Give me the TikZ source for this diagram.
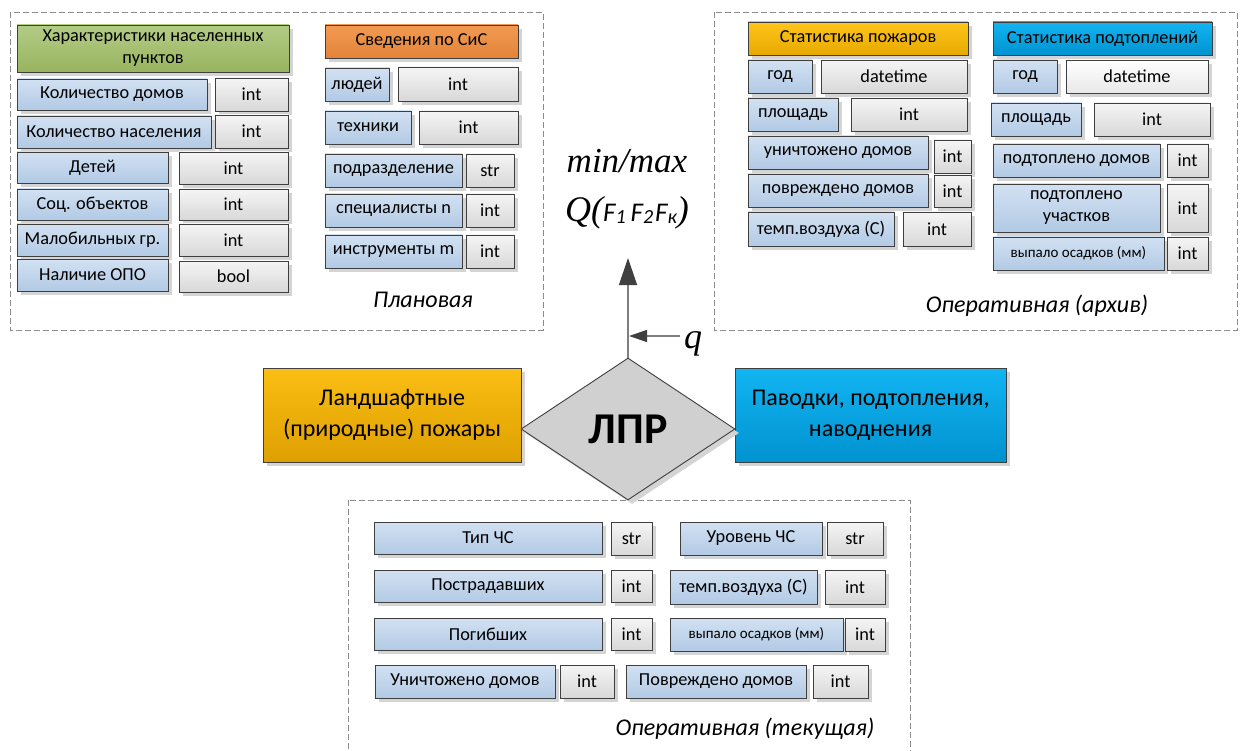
\documentclass[tikz,border=0pt]{standalone}
\usepackage{fontspec}
\setmainfont{Carlito}
\newfontfamily\tnr{Liberation Serif}
\usetikzlibrary{shapes.geometric,arrows.meta,shadows}
\definecolor{edge}{HTML}{3F3F3F}
\definecolor{bluT}{HTML}{D2E1F2}
\definecolor{bluB}{HTML}{B2CAE5}
\definecolor{grT}{HTML}{F5F5F5}
\definecolor{grB}{HTML}{D8D8D8}
\definecolor{whT}{HTML}{FFFFFF}
\definecolor{whB}{HTML}{E8E8E8}
\definecolor{grnT}{HTML}{B3CC86}
\definecolor{grnB}{HTML}{98B45E}
\definecolor{orT}{HTML}{F29A52}
\definecolor{orB}{HTML}{E3843A}
\definecolor{yeT}{HTML}{FFC51A}
\definecolor{yeB}{HTML}{E6A800}
\definecolor{cyT}{HTML}{12B4F2}
\definecolor{cyB}{HTML}{0093D0}
\definecolor{bigOT}{HTML}{FBBE14}
\definecolor{bigOB}{HTML}{DDA000}
\definecolor{shadowgray}{HTML}{D4D4D4}
\definecolor{panelgray}{HTML}{8C8C8C}
\definecolor{arrowgray}{HTML}{7F7F7F}
\definecolor{arrowdark}{HTML}{404040}
\definecolor{diamondfill}{HTML}{D0D0D0}
\newcommand\mkcell[7]{\node[#6, minimum width={#4-#2}, minimum height={#5-#3}] (#1) at ({(#2+#4)/2},{(#3+#5)/2}) {#7};}
\tikzset{
  cell/.style={draw=edge, line width=0.9pt, inner sep=0pt, align=center,
    font=\fontsize{18.3}{22}\selectfont,
    drop shadow={shadow xshift=4pt, shadow yshift=-4pt, fill=shadowgray, opacity=1}},
  bluecell/.style={cell, top color=bluT, bottom color=bluB},
  graycell/.style={cell, top color=grT, bottom color=grB},
  whitecell/.style={cell, top color=whT, bottom color=whB},
  greenhdr/.style={cell, top color=grnT, bottom color=grnB},
  orangehdr/.style={cell, top color=orT, bottom color=orB},
  yellowhdr/.style={cell, top color=yeT, bottom color=yeB},
  cyanhdr/.style={cell, top color=cyT, bottom color=cyB},
  smallfont/.style={font=\fontsize{15}{18}\selectfont},
  bigbox/.style={cell, font=\fontsize{24}{31}\selectfont},
  panel/.style={draw=panelgray, dashed, dash pattern=on 6pt off 3pt, line width=0.9pt},
  caption/.style={font=\fontsize{24}{28}\selectfont\itshape, anchor=base},
}
\begin{document}
\begin{tikzpicture}[x=1pt,y=-1pt]
\useasboundingbox (0,0) rectangle (1246,751);
\clip (0,0) rectangle (1246,751);
\fill[white] (0,0) rectangle (1246,751);
% panels
\draw[panel] (10,12) rectangle (543,330);
\draw[panel] (714,12) rectangle (1237,330);
\draw[panel] (348,500) rectangle (910,770);
% top-left
\mkcell{hdrA}{17}{25}{289}{72}{greenhdr}{Характеристики населенных\\пунктов}
\mkcell{a1}{17}{79}{207}{110}{bluecell}{Количество домов}
\mkcell{a1t}{215}{78}{288}{111}{graycell}{int}
\mkcell{a2}{17}{116}{211}{148}{bluecell}{Количество населения}
\mkcell{a2t}{215}{115}{288}{148}{graycell}{int}
\mkcell{a3}{17}{152}{168}{183}{bluecell}{Детей}
\mkcell{a3t}{179}{152}{288}{184}{graycell}{int}
\mkcell{a4}{17}{189}{168}{220}{bluecell}{Соц. объектов}
\mkcell{a4t}{179}{189}{288}{220}{graycell}{int}
\mkcell{a5}{17}{224}{168}{256}{bluecell}{Малобильных гр.}
\mkcell{a5t}{179}{224}{288}{256}{graycell}{int}
\mkcell{a6}{17}{259}{168}{291}{bluecell}{Наличие ОПО}
\mkcell{a6t}{179}{261}{288}{292}{graycell}{bool}
% middle
\mkcell{hdrB}{325}{25}{518}{58}{orangehdr}{Сведения по СиС}
\mkcell{b1}{325}{68}{389}{101}{bluecell}{людей}
\mkcell{b1t}{398}{67}{518}{101}{graycell}{int}
\mkcell{b2}{325}{111}{411}{144}{bluecell}{техники}
\mkcell{b2t}{419}{111}{518}{144}{graycell}{int}
\mkcell{b3}{325}{154}{462}{187}{bluecell}{подразделение}
\mkcell{b3t}{466}{154}{514}{187}{graycell}{str}
\mkcell{b4}{325}{194}{462}{227}{bluecell}{специалисты n}
\mkcell{b4t}{466}{194}{514}{227}{graycell}{int}
\mkcell{b5}{325}{235}{462}{268}{bluecell}{инструменты m}
\mkcell{b5t}{466}{235}{514}{268}{graycell}{int}
\node[caption] (capA) at (423,307) {Плановая};
% top-right
\mkcell{hdrC}{748}{22}{968}{55}{yellowhdr}{Статистика пожаров}
\mkcell{c1}{748}{60}{812}{93}{bluecell}{год}
\mkcell{c1t}{821}{60}{967}{93}{graycell}{datetime}
\mkcell{c2}{748}{98}{838}{131}{bluecell}{площадь}
\mkcell{c2t}{851}{98}{967}{131}{graycell}{int}
\mkcell{c3}{748}{136}{928}{169}{bluecell}{уничтожено домов}
\mkcell{c3t}{934}{140}{971}{173}{graycell}{int}
\mkcell{c4}{748}{174}{928}{207}{bluecell}{повреждено домов}
\mkcell{c4t}{934}{175}{971}{207}{graycell}{int}
\mkcell{c5}{748}{212}{894}{246}{bluecell}{темп.воздуха (С)}
\mkcell{c5t}{903}{212}{971}{246}{graycell}{int}
\mkcell{hdrD}{993}{22}{1212}{55}{cyanhdr}{Статистика подтоплений}
\mkcell{d1}{993}{60}{1057}{93}{bluecell}{год}
\mkcell{d1t}{1066}{60}{1208}{93}{whitecell}{datetime}
\mkcell{d2}{991}{103}{1081}{136}{bluecell}{площадь}
\mkcell{d2t}{1094}{103}{1210}{136}{graycell}{int}
\mkcell{d3}{993}{144}{1160}{177}{bluecell}{подтоплено домов}
\mkcell{d3t}{1167}{144}{1208}{177}{graycell}{int}
\mkcell{d4}{993}{184}{1160}{232}{bluecell}{подтоплено\\участков}
\mkcell{d4t}{1167}{184}{1208}{232}{graycell}{int}
\mkcell{d5}{993}{237}{1164}{270}{bluecell,smallfont}{выпало осадков (мм)}
\mkcell{d5t}{1167}{237}{1208}{270}{graycell}{int}
\node[caption] (capC) at (1037,312) {Оперативная (архив)};
% bottom
\mkcell{e1}{374}{522}{602}{554}{bluecell}{Тип ЧС}
\mkcell{e1t}{611}{522}{652}{555}{graycell}{str}
\mkcell{e2}{680}{522}{822}{555}{bluecell}{Уровень ЧС}
\mkcell{e2t}{827}{522}{883}{555}{graycell}{str}
\mkcell{e3}{374}{570}{602}{602}{bluecell}{Пострадавших}
\mkcell{e3t}{611}{570}{652}{602}{graycell}{int}
\mkcell{e4}{670}{570}{817}{604}{bluecell}{темп.воздуха (С)}
\mkcell{e4t}{825}{570}{885}{604}{graycell}{int}
\mkcell{e5}{374}{618}{602}{650}{bluecell}{Погибших}
\mkcell{e5t}{611}{618}{652}{650}{graycell}{int}
\mkcell{e6}{670}{618}{843}{651}{bluecell,smallfont}{выпало осадков (мм)}
\mkcell{e6t}{845}{618}{885}{651}{graycell}{int}
\mkcell{e7}{375}{665}{555}{698}{bluecell}{Уничтожено домов}
\mkcell{e7t}{560}{665}{614}{698}{graycell}{int}
\mkcell{e8}{626}{665}{806}{698}{bluecell}{Повреждено домов}
\mkcell{e8t}{813}{665}{868}{698}{graycell}{int}
\node[caption] (capE) at (745,735) {Оперативная (текущая)};
% central
\mkcell{fire}{263}{368}{521}{462}{bigbox, top color=bigOT, bottom color=bigOB}{Ландшафтные\\(природные) пожары}
\mkcell{flood}{735}{368}{1006}{462}{bigbox, top color=cyT, bottom color=cyB}{Паводки, подтопления,\\наводнения}
\node[diamond, draw=edge, line width=0.9pt, fill=diamondfill, inner sep=0pt,
  minimum width=214, minimum height=142,
  drop shadow={shadow xshift=4pt, shadow yshift=-4pt, fill=shadowgray, opacity=1},
  font=\fontsize{44}{44}\selectfont\bfseries] (lpr) at (628,429) {ЛПР};
\coordinate (top) at (628,258);
\coordinate (qs) at (680,336);
\coordinate (qe) at (629,336);
\draw[arrowgray, line width=1.3pt, -{Triangle[length=27pt,width=18pt,color=arrowdark]}] (lpr.north) -- (top);
\draw[arrowgray, line width=1.3pt, -{Triangle[length=18pt,width=12pt,color=arrowdark]}] (qs) -- (qe);
\node[anchor=base, font=\tnr\itshape\fontsize{36}{36}\selectfont] (q) at (693,348) {q};
\node[anchor=base, font=\tnr\itshape\fontsize{35}{35}\selectfont] (minmax) at (627,173) {min/max};
\node[anchor=base, inner sep=0pt] (Qf) at (627,222) {{\tnr\itshape\fontsize{36}{36}\selectfont Q(}{\itshape\fontsize{27}{27}\selectfont F\raisebox{-2pt}{\fontsize{20}{20}\selectfont 1}\hspace{5pt}F\raisebox{-2pt}{\fontsize{20}{20}\selectfont 2}\hspace{2pt}F\raisebox{-2pt}{\fontsize{20}{20}\selectfont к}}{\tnr\itshape\fontsize{36}{36}\selectfont )}};
\end{tikzpicture}
\end{document}
